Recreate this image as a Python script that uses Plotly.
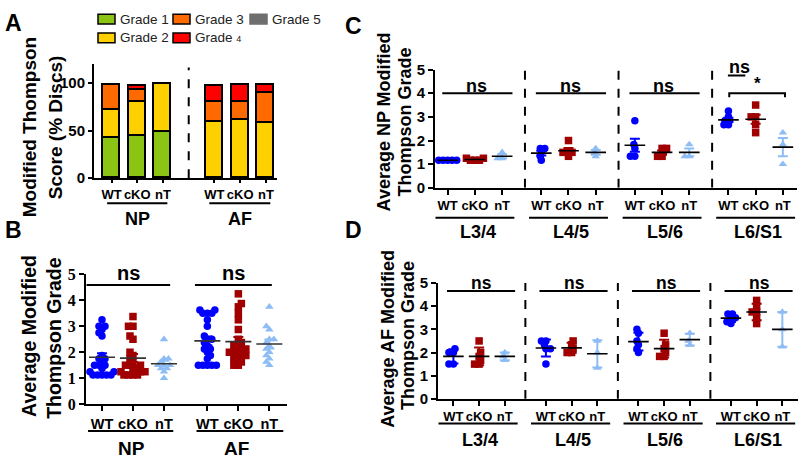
import numpy as np
import plotly.graph_objects as go

W, H = 800, 467
SANS = "Liberation Sans"
SERIF = "Liberation Serif"

# ---------------- data ----------------
# Panel A : % discs per Thompson grade (stacked)
bar_labels = ["WT", "cKO", "nT", "WT", "cKO", "nT"]
tissue_groups = ["NP", "AF"]
grade_names = ["Grade 1", "Grade 2", "Grade 3", "Grade 4", "Grade 5"]
grade1 = [42, 44, 49, 0, 0, 0]
grade2 = [30, 36.5, 50.5, 59, 61.5, 58]
grade3 = [26, 12, 0, 21.5, 18.5, 32]
grade4 = [0, 4.8, 0, 16.8, 18.3, 8.3]
grade5 = [0, 0, 0, 0, 0, 0]
grade_colors = ["#8CC414", "#FFD000", "#FF6A00", "#FF0000", "#6E6E6E"]

# Panel B : average modified Thompson grade per animal
genotypes = ["WT", "cKO", "nT"]
np_wt = [3.25, 3.0, 3.0, 2.875, 2.75, 2.625, 1.875, 1.75, 1.75, 1.625, 1.5, 1.5, 1.5,
         1.375, 1.25, 1.25, 1.25, 1.125, 1.125, 1.125, 1.125, 1.125]
np_cko = [3.375, 3.0, 3.0, 2.625, 2.5, 2.0, 1.875, 1.75, 1.625, 1.5, 1.5, 1.5, 1.375,
          1.375, 1.25, 1.25, 1.25, 1.125, 1.125, 1.125, 1.125]
np_nt = [2.5, 1.75, 1.75, 1.625, 1.5, 1.5, 1.5, 1.375, 1.375, 1.25, 1.0]
af_wt = [3.625, 3.625, 3.5, 3.5, 3.5, 3.25, 3.0, 2.625, 2.5, 2.5, 2.375, 2.25, 2.125,
         2.125, 2.0, 1.875, 1.75, 1.5, 1.5, 1.5, 1.5, 1.5]
af_cko = [4.25, 3.875, 3.75, 3.5, 3.25, 2.875, 2.5, 2.375, 2.25, 2.25, 2.125, 2.125,
          2.0, 2.0, 2.0, 1.875, 1.875, 1.75, 1.75, 1.625, 1.5, 1.5]
af_nt = [3.75, 3.0, 2.875, 2.5, 2.5, 2.375, 2.25, 2.125, 2.0, 1.875, 1.75, 1.625, 1.5]

# Panels C / D : per spinal level
levels = ["L3/4", "L4/5", "L5/6", "L6/S1"]
c_wt = [[1.167, 1.167, 1.167, 1.167, 1.167],
        [1.667, 1.667, 1.5, 1.333, 1.167],
        [2.833, 1.833, 1.667, 1.333, 1.333],
        [3.25, 3.0, 2.833, 2.833, 2.667, 2.667]]
c_cko = [[1.25, 1.25, 1.167, 1.167, 1.167],
         [2.0, 1.5, 1.5, 1.5, 1.333],
         [1.667, 1.667, 1.5, 1.333, 1.333],
         [3.5, 3.0, 3.0, 2.667, 2.333]]
c_nt = [[1.5, 1.25, 1.25],
        [1.667, 1.5, 1.333],
        [1.833, 1.333, 1.333],
        [2.333, 1.833, 1.0]]
d_wt = [[2.167, 2.0, 2.0, 1.5, 1.5],
        [2.5, 2.5, 2.333, 2.167, 2.167, 1.5],
        [3.0, 2.833, 2.5, 2.333, 2.167, 2.0],
        [3.667, 3.667, 3.5, 3.5, 3.333, 3.25]]
d_cko = [[2.5, 2.0, 1.833, 1.667, 1.5, 1.5],
         [2.5, 2.333, 2.167, 2.0, 2.0],
         [2.833, 2.333, 2.167, 2.0, 1.833, 1.833],
         [4.25, 4.0, 3.75, 3.75, 3.5, 3.25]]
d_nt = [[2.0, 1.833, 1.667],
        [2.5, 2.0, 1.333],
        [2.833, 2.5, 2.333],
        [3.75, 3.0, 2.25]]

# ---------------- layout geometry (pixels) ----------------
PA = dict(x0=94, x1=277, y0=176, y1=57, xr=(-0.68, 6.43), yr=(0, 120))
PB = dict(x0=86, x1=287, y0=411, y1=276, xr=(-0.516, 5.97), yr=(0, 5))
PC = dict(x0=435, x1=797, y0=186, y1=63, xr=(-0.467, 12.84), yr=(0, 5))
PD = dict(x0=438, x1=798, y0=405.5, y1=285, xr=(-0.6, 13.41), yr=(0, 5))
C_STEP, D_STEP = 3.44, 3.6

COL = {"WT": "#0000FF", "cKO": "#A00000", "nT": "#8EBDF5"}
SYM = {"WT": "circle", "cKO": "square", "nT": "triangle-up"}


def xpap(p, xd):
    return (p["x0"] + (xd - p["xr"][0]) / (p["xr"][1] - p["xr"][0]) * (p["x1"] - p["x0"])) / W


def ypap(ypx):
    return 1 - ypx / H


def ppux(p):
    return (p["x1"] - p["x0"]) / (p["xr"][1] - p["xr"][0])


def ppuy(p):
    return (p["y0"] - p["y1"]) / (p["yr"][1] - p["yr"][0])


def swarm(vals, py_, px_, diam, step=0.5):
    n = len(vals)
    order = sorted(range(n), key=lambda i: vals[i])
    placed, offs = [], [0.0] * n
    for j, i in enumerate(order):
        y = vals[i] * py_
        k = 0
        found = None
        while found is None:
            if k == 0:
                cands = [0.0]
            else:
                cands = [k * step, -k * step] if j % 2 == 0 else [-k * step, k * step]
            for x in cands:
                if all((x - a) ** 2 + (y - b) ** 2 >= diam ** 2 for a, b in placed):
                    found = x
                    break
            k += 1
        placed.append((found, y))
        offs[i] = found / px_
    return offs


fig = go.Figure()

# ---------------- Panel A bars ----------------
a_pos = [0, 1, 2, 4, 5, 6]
for name, vals, c in zip(grade_names, [grade1, grade2, grade3, grade4, grade5], grade_colors):
    fig.add_trace(go.Bar(x=a_pos, y=vals, name=name, width=0.66,
                         marker=dict(color=c, line=dict(color="black", width=1.8)),
                         xaxis="x", yaxis="y"))


def add_group(vals, pos, geno, ax, p, msize, diam, use_sd, hw, cap, mcolor):
    offs = swarm(vals, ppuy(p), ppux(p), diam)
    fig.add_trace(go.Scatter(x=[pos + o for o in offs], y=vals, mode="markers",
                             marker=dict(symbol=SYM[geno], size=msize, color=COL[geno],
                                         line=dict(width=0)),
                             xaxis="x" + ax, yaxis="y" + ax, cliponaxis=False))
    arr = np.array(vals, dtype=float)
    m = float(arr.mean())
    sd = float(arr.std(ddof=1))
    e = sd if use_sd else sd / np.sqrt(len(arr))
    fig.add_trace(go.Scatter(x=[pos], y=[m], mode="markers",
                             marker=dict(size=1, color="rgba(0,0,0,0)"),
                             error_y=dict(type="data", array=[e], color=COL[geno],
                                          thickness=2, width=cap, visible=True),
                             xaxis="x" + ax, yaxis="y" + ax, cliponaxis=False))
    fig.add_trace(go.Scatter(x=[pos - hw, pos + hw], y=[m, m], mode="lines",
                             line=dict(color=mcolor, width=1.6),
                             xaxis="x" + ax, yaxis="y" + ax, cliponaxis=False))


# ---------------- Panel B ----------------
b_pos = [0, 1, 2, 3.4, 4.4, 5.4]
b_sets = [np_wt, np_cko, np_nt, af_wt, af_cko, af_nt]
for k, vals in enumerate(b_sets):
    add_group(vals, b_pos[k], genotypes[k % 3], "2", PB, 7.5, 4.4, False, 0.42, 5, "#333333")

# ---------------- Panels C and D ----------------
for g in range(4):
    for i, (geno, sets) in enumerate(zip(genotypes, [c_wt, c_cko, c_nt])):
        add_group(sets[g], g * C_STEP + i, geno, "3", PC, 7.5, 4.2, False, 0.38, 5, "black")
    for i, (geno, sets) in enumerate(zip(genotypes, [d_wt, d_cko, d_nt])):
        add_group(sets[g], g * D_STEP + i, geno, "4", PD, 7.5, 4.2, True, 0.4, 5, "black")


# ---------------- axes ----------------
def axis_common():
    return dict(showline=True, linewidth=2, linecolor="black", ticks="outside",
                tickwidth=2, tickcolor="black", showgrid=False, zeroline=False,
                fixedrange=True, tickangle=0)


def dom_x(p):
    return [p["x0"] / W, p["x1"] / W]


def dom_y(p):
    return [1 - p["y0"] / H, 1 - p["y1"] / H]


c_ticks = [g * C_STEP + i for g in range(4) for i in range(3)]
d_ticks = [g * D_STEP + i for g in range(4) for i in range(3)]

layout_axes = dict(
    xaxis=dict(**axis_common(), domain=dom_x(PA), range=list(PA["xr"]), anchor="y",
               tickvals=a_pos, ticktext=bar_labels, ticklen=3,
               tickfont=dict(family=SANS, size=13, color="black", weight="bold")),
    yaxis=dict(**axis_common(), domain=dom_y(PA), range=list(PA["yr"]), anchor="x",
               tickvals=[0, 50, 100], ticklen=4,
               tickfont=dict(family=SANS, size=15, color="black", weight="bold")),
    xaxis2=dict(**axis_common(), domain=dom_x(PB), range=list(PB["xr"]), anchor="y2",
                tickvals=b_pos, ticktext=genotypes * 2, ticklen=5,
                tickfont=dict(family=SANS, size=14.5, color="black", weight="bold")),
    yaxis2=dict(**axis_common(), domain=dom_y(PB), range=list(PB["yr"]), anchor="x2",
                tickvals=[0, 1, 2, 3, 4, 5], ticklen=5,
                tickfont=dict(family=SERIF, size=16, color="black", weight="bold")),
    xaxis3=dict(**axis_common(), domain=dom_x(PC), range=list(PC["xr"]), anchor="y3",
                tickvals=c_ticks, ticktext=genotypes * 4, ticklen=5,
                tickfont=dict(family=SANS, size=13, color="black", weight="bold")),
    yaxis3=dict(**axis_common(), domain=dom_y(PC), range=list(PC["yr"]), anchor="x3",
                tickvals=[0, 1, 2, 3, 4, 5], ticklen=5,
                tickfont=dict(family=SANS, size=15, color="black", weight="bold")),
    xaxis4=dict(**axis_common(), domain=dom_x(PD), range=list(PD["xr"]), anchor="y4",
                tickvals=d_ticks, ticktext=genotypes * 4, ticklen=5,
                tickfont=dict(family=SANS, size=13, color="black", weight="bold")),
    yaxis4=dict(**axis_common(), domain=dom_y(PD), range=list(PD["yr"]), anchor="x4",
                tickvals=[0, 1, 2, 3, 4, 5], ticklen=5,
                tickfont=dict(family=SANS, size=15, color="black", weight="bold")),
)

# ---------------- shapes & annotations ----------------
shapes = []
ann = []


def hline_paper(xa, xb, ypx, width=2):
    shapes.append(dict(type="line", xref="paper", yref="paper", x0=xa, x1=xb,
                       y0=ypap(ypx), y1=ypap(ypx), line=dict(color="black", width=width)))


def txt(xp, ypx, s, size, bold=True, family=SANS, angle=0, xanchor="center", color="black"):
    ann.append(dict(x=xp, y=ypap(ypx), xref="paper", yref="paper", text=s, showarrow=False,
                    font=dict(family=family, size=size, color=color,
                              weight="bold" if bold else "normal"),
                    textangle=angle, xanchor=xanchor, yanchor="middle"))


def dline(ax, x, y0, y1, dash="dash", width=2):
    shapes.append(dict(type="line", xref="x" + ax, yref="y" + ax, x0=x, x1=x, y0=y0, y1=y1,
                       line=dict(color="black", width=width, dash=dash)))


def dhline(ax, xa, xb, y, width=2):
    shapes.append(dict(type="line", xref="x" + ax, yref="y" + ax, x0=xa, x1=xb, y0=y, y1=y,
                       line=dict(color="black", width=width)))


# Panel letters
txt(13 / W, 15, "A", 23)
txt(13 / W, 230, "B", 23)
txt(353 / W, 18, "C", 23)
txt(353 / W, 230, "D", 23)

# Y-axis titles
txt(29 / W, 123, "Modified Thompson", 19, angle=-90)
txt(55 / W, 123, "Score (% Discs)", 19, angle=-90)
txt(29 / W, 340, "Average Modified", 19.5, angle=-90)
txt(54 / W, 342, "Thompson Grade", 19.5, angle=-90)
txt(384 / W, 118, "Average NP Modified", 18, angle=-90)
txt(405 / W, 118, "Thompson Grade", 18, angle=-90)
txt(388 / W, 343, "Average AF Modified", 18, angle=-90)
txt(408 / W, 340, "Thompson Grade", 18, angle=-90)

# Panel A legend
leg = [(98, 10.5, 0), (98, 30, 1), (173, 10.5, 2), (173, 30, 3), (250, 10.5, 4)]
for xb, yc, gi in leg:
    shapes.append(dict(type="rect", xref="paper", yref="paper",
                       x0=xb / W, x1=(xb + 17) / W, y0=ypap(yc + 5), y1=ypap(yc - 5),
                       fillcolor=grade_colors[gi],
                       line=dict(color="black" if gi < 4 else grade_colors[gi], width=1.5)))
    label = grade_names[gi]
    if gi == 3:
        label = "Grade <span style='font-size:9px'>4</span>"
    txt((xb + 20) / W, yc, label, 13.5, bold=False, xanchor="left", color="#222222")

# Panel A divider and group labels
dline("", 3, 0, 116)
hline_paper(xpap(PA, -0.17), xpap(PA, 2.17), 202)
hline_paper(xpap(PA, 3.8), xpap(PA, 6.17), 202)
txt(xpap(PA, 1), 218, tissue_groups[0], 18)
txt(xpap(PA, 5), 218, tissue_groups[1], 18)

# Panel B
dhline("2", -0.5, 2.2, 4.59)
dhline("2", 3.0, 5.48, 4.59)
txt(xpap(PB, 0.85), 275, "ns", 20)
txt(xpap(PB, 4.25), 275, "ns", 20)
hline_paper(xpap(PB, -0.45), xpap(PB, 2.3), 439)
hline_paper(xpap(PB, 3.05), xpap(PB, 5.85), 439)
txt(xpap(PB, 0.95), 457, tissue_groups[0], 19)
txt(xpap(PB, 4.35), 457, tissue_groups[1], 19)

# Panel C
for g in range(1, 4):
    dline("3", g * C_STEP - 0.6, 0, 5)
for g in range(3):
    dhline("3", g * C_STEP - 0.2, g * C_STEP + 2.38, 4.0)
    txt(xpap(PC, g * C_STEP + 1.07), 80, "ns", 18)
g3 = 3 * C_STEP
dhline("3", g3 - 0.02, g3 + 0.62, 4.75)
txt(xpap(PC, g3 + 0.42), 60, "ns", 18)
shapes.append(dict(type="path", xref="x3", yref="y3",
                   path=f"M {g3 + 0.03},3.83 L {g3 + 0.03},4.0 L {g3 + 2.08},4.0 L {g3 + 2.08},3.83",
                   line=dict(color="black", width=2)))
txt(xpap(PC, g3 + 1.05), 78, "*", 17)
for g in range(4):
    hline_paper(xpap(PC, g * C_STEP - 0.45), xpap(PC, g * C_STEP + 2.45), 217)
    txt(xpap(PC, g * C_STEP + 1.1), 232, levels[g], 18)

# Panel D
for g in range(1, 4):
    dline("4", g * D_STEP - 0.8, 0, 5)
for g in range(4):
    dhline("4", g * D_STEP - 0.25, g * D_STEP + 2.4, 4.66)
    txt(xpap(PD, g * D_STEP + 1.1), 285, "ns", 17.5)
    hline_paper(xpap(PD, g * D_STEP - 0.58), xpap(PD, g * D_STEP + 2.5), 431)
    txt(xpap(PD, g * D_STEP + 1.05), 448, levels[g], 18)

fig.update_layout(
    width=W, height=H, margin=dict(l=0, r=0, t=0, b=0),
    paper_bgcolor="white", plot_bgcolor="white", showlegend=False,
    barmode="stack", bargap=0, hovermode=False,
    shapes=shapes, annotations=ann,
    **layout_axes,
)

fig.write_html("out.html", config={"displayModeBar": False},
               post_script="document.body.style.margin='0';document.body.style.padding='0';"
                           "document.body.style.overflow='hidden';")
